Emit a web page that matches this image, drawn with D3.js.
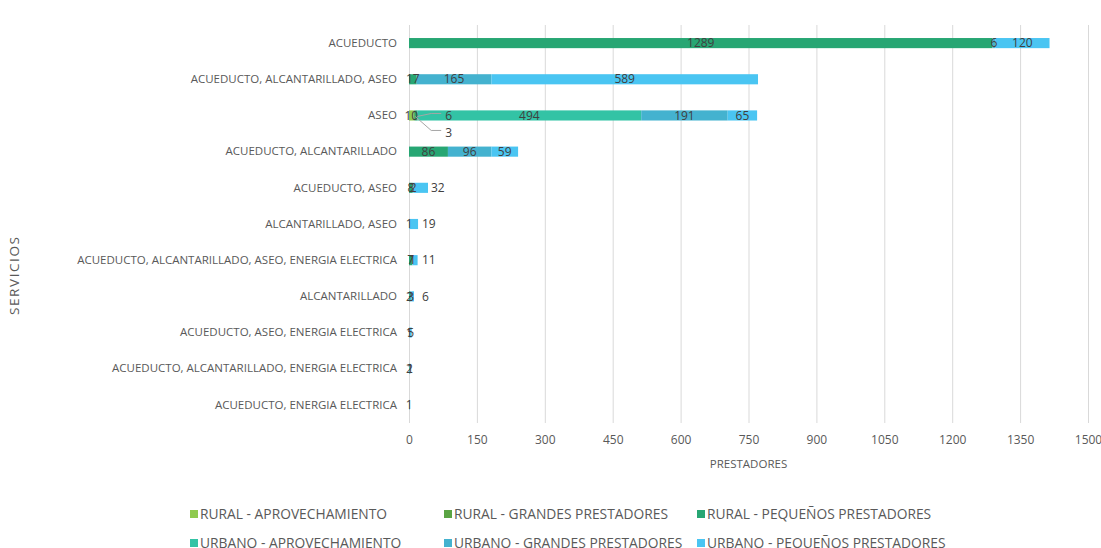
<!DOCTYPE html>
<html>
<head>
<meta charset="utf-8">
<script src="https://cdn.jsdelivr.net/npm/d3@7"></script>
<style>
  body { margin: 0; background: #fff; }
  svg text { font-family: "Open Sans", "Noto Sans", sans-serif; }
</style>
</head>
<body>
<div id="chart"></div>
<script>
// categories, top to bottom
const services = [
  'ACUEDUCTO',
  'ACUEDUCTO, ALCANTARILLADO, ASEO',
  'ASEO',
  'ACUEDUCTO, ALCANTARILLADO',
  'ACUEDUCTO, ASEO',
  'ALCANTARILLADO, ASEO',
  'ACUEDUCTO, ALCANTARILLADO, ASEO, ENERGIA ELECTRICA',
  'ALCANTARILLADO',
  'ACUEDUCTO, ASEO, ENERGIA ELECTRICA',
  'ACUEDUCTO, ALCANTARILLADO, ENERGIA ELECTRICA',
  'ACUEDUCTO, ENERGIA ELECTRICA'
];

const seriesNames = [
  'RURAL - APROVECHAMIENTO',
  'RURAL - GRANDES PRESTADORES',
  'RURAL - PEQUEÑOS PRESTADORES',
  'URBANO - APROVECHAMIENTO',
  'URBANO - GRANDES PRESTADORES',
  'URBANO - PEQUEÑOS PRESTADORES'
];
const seriesColors = ['#8fca4f', '#5aa444', '#27a673', '#33c3a5', '#44b2cf', '#4ac5f2'];

// values per series, same order as services (0 = no segment)
const ruralAprovechamiento  = [0, 0, 10, 0, 0, 0, 0, 0, 0, 0, 0];
const ruralGrandes          = [0, 0, 3, 0, 0, 0, 0, 0, 0, 0, 0];
const ruralPequenos         = [1289, 17, 6, 86, 8, 0, 7, 2, 0, 0, 0];
const urbanoAprovechamiento = [0, 0, 494, 0, 0, 0, 0, 0, 0, 0, 0];
const urbanoGrandes         = [6, 165, 191, 96, 2, 1, 1, 3, 1, 2, 1];
const urbanoPequenos        = [120, 589, 65, 59, 32, 19, 11, 6, 5, 1, 0];

const xTicks = [0, 150, 300, 450, 600, 750, 900, 1050, 1200, 1350, 1500];

// labels pulled out with a leader line (service, series index, dx, dy)
const callouts = [
  ['ASEO', 1, 30, 17],
  ['ASEO', 2, 28, 0]
];
// labels placed just right of the bar (service, series index)
const outsideLabels = [
  ['ACUEDUCTO, ASEO', 5],
  ['ALCANTARILLADO, ASEO', 5],
  ['ACUEDUCTO, ALCANTARILLADO, ASEO, ENERGIA ELECTRICA', 5],
  ['ALCANTARILLADO', 5]
];

const W = 1101, H = 548;
const margin = {top: 25, right: 13, bottom: 125, left: 409};
const width = W - margin.left - margin.right;
const height = H - margin.top - margin.bottom;

const svg = d3.select('#chart').append('svg')
    .attr('width', W)
    .attr('height', H);

const g = svg.append('g')
    .attr('transform', `translate(${margin.left},${margin.top})`);

const x = d3.scaleLinear().domain([0, 1500]).range([0, width]);
const y = d3.scaleBand().domain(services).range([0, height]).paddingInner(0.72).paddingOuter(0.36);

// grid
g.append('g').selectAll('line')
    .data(xTicks)
  .join('line')
    .attr('x1', d => x(d) + 0.5).attr('x2', d => x(d) + 0.5)
    .attr('y1', 0).attr('y2', height)
    .attr('stroke', '#d9d9d9');

// x axis labels
const xAxis = d3.axisBottom(x).tickValues(xTicks).tickSize(0).tickPadding(12).tickFormat(d3.format('d'));
g.append('g')
    .attr('transform', `translate(0,${height})`)
    .call(xAxis)
    .call(a => a.select('.domain').remove())
    .call(a => a.selectAll('text').attr('fill', '#595959').style('font-size', '12px'));

// y axis labels
const yAxis = d3.axisLeft(y).tickSize(0).tickPadding(12);
g.append('g')
    .call(yAxis)
    .call(a => a.select('.domain').remove())
    .call(a => a.selectAll('text').attr('fill', '#595959').style('font-size', '11.5px'));

// stack
const seriesValues = [ruralAprovechamiento, ruralGrandes, ruralPequenos, urbanoAprovechamiento, urbanoGrandes, urbanoPequenos];
const rows = services.map((s, i) => {
  const r = {service: s};
  seriesNames.forEach((n, j) => r[n] = seriesValues[j][i]);
  return r;
});
const stacked = d3.stack().keys(seriesNames)(rows);

const layers = g.append('g').selectAll('g')
    .data(stacked)
  .join('g')
    .attr('fill', (d, i) => seriesColors[i]);

layers.selectAll('rect')
    .data(d => d.filter(p => p[1] - p[0] > 0))
  .join('rect')
    .attr('x', d => x(d[0]))
    .attr('y', d => y(d.data.service))
    .attr('width', d => x(d[1]) - x(d[0]))
    .attr('height', y.bandwidth());

// value labels
const labels = g.append('g').style('font-size', '12px').attr('fill', '#404040');
stacked.forEach((layer, si) => {
  layer.forEach(p => {
    const v = p[1] - p[0];
    if (v <= 0) return;
    const svc = p.data.service;
    const cy = y(svc) + y.bandwidth() / 2;
    const segW = x(p[1]) - x(p[0]);
    const co = callouts.find(c => c[0] === svc && c[1] === si);
    const out = outsideLabels.find(c => c[0] === svc && c[1] === si);
    if (co) {
      const sx = x(p[0]) + segW / 2 + 1, sy = cy + 1;
      const tx = sx + co[2], ty = cy + co[3];
      labels.append('polyline')
        .attr('points', `${sx},${sy} ${tx - 14},${ty - 2} ${tx - 4},${ty - 2}`)
        .attr('fill', 'none').attr('stroke', '#a6a6a6').attr('stroke-width', 1);
      labels.append('text').attr('x', tx).attr('y', ty).attr('dy', '0.35em').text(v);
    } else if (out) {
      labels.append('text').attr('x', Math.max(x(p[1]) + 3, 13)).attr('y', cy).attr('dy', '0.35em').text(v);
    } else {
      labels.append('text').attr('x', x(p[0]) + segW / 2).attr('y', cy)
        .attr('dy', '0.35em').attr('text-anchor', 'middle').text(v);
    }
  });
});

// axis titles
svg.append('text')
    .attr('x', margin.left + width / 2).attr('y', 468)
    .attr('text-anchor', 'middle').attr('fill', '#595959').style('font-size', '11.5px')
    .text('PRESTADORES');
svg.append('text')
    .attr('transform', `translate(19,276) rotate(-90)`)
    .attr('text-anchor', 'middle').attr('fill', '#595959').style('font-size', '13.5px')
    .attr('textLength', 78).attr('lengthAdjust', 'spacing')
    .text('SERVICIOS');

// legend
const legendX = [190, 444, 697];
const legend = svg.append('g');
seriesNames.forEach((n, i) => {
  const lx = legendX[i % 3], ly = 514 + Math.floor(i / 3) * 29;
  legend.append('rect').attr('x', lx).attr('y', ly - 4).attr('width', 8).attr('height', 8).attr('fill', seriesColors[i]);
  legend.append('text').attr('x', lx + 10).attr('y', ly).attr('dy', '0.35em')
    .attr('fill', '#595959').style('font-size', '13.8px').text(n);
});
</script>
</body>
</html>
